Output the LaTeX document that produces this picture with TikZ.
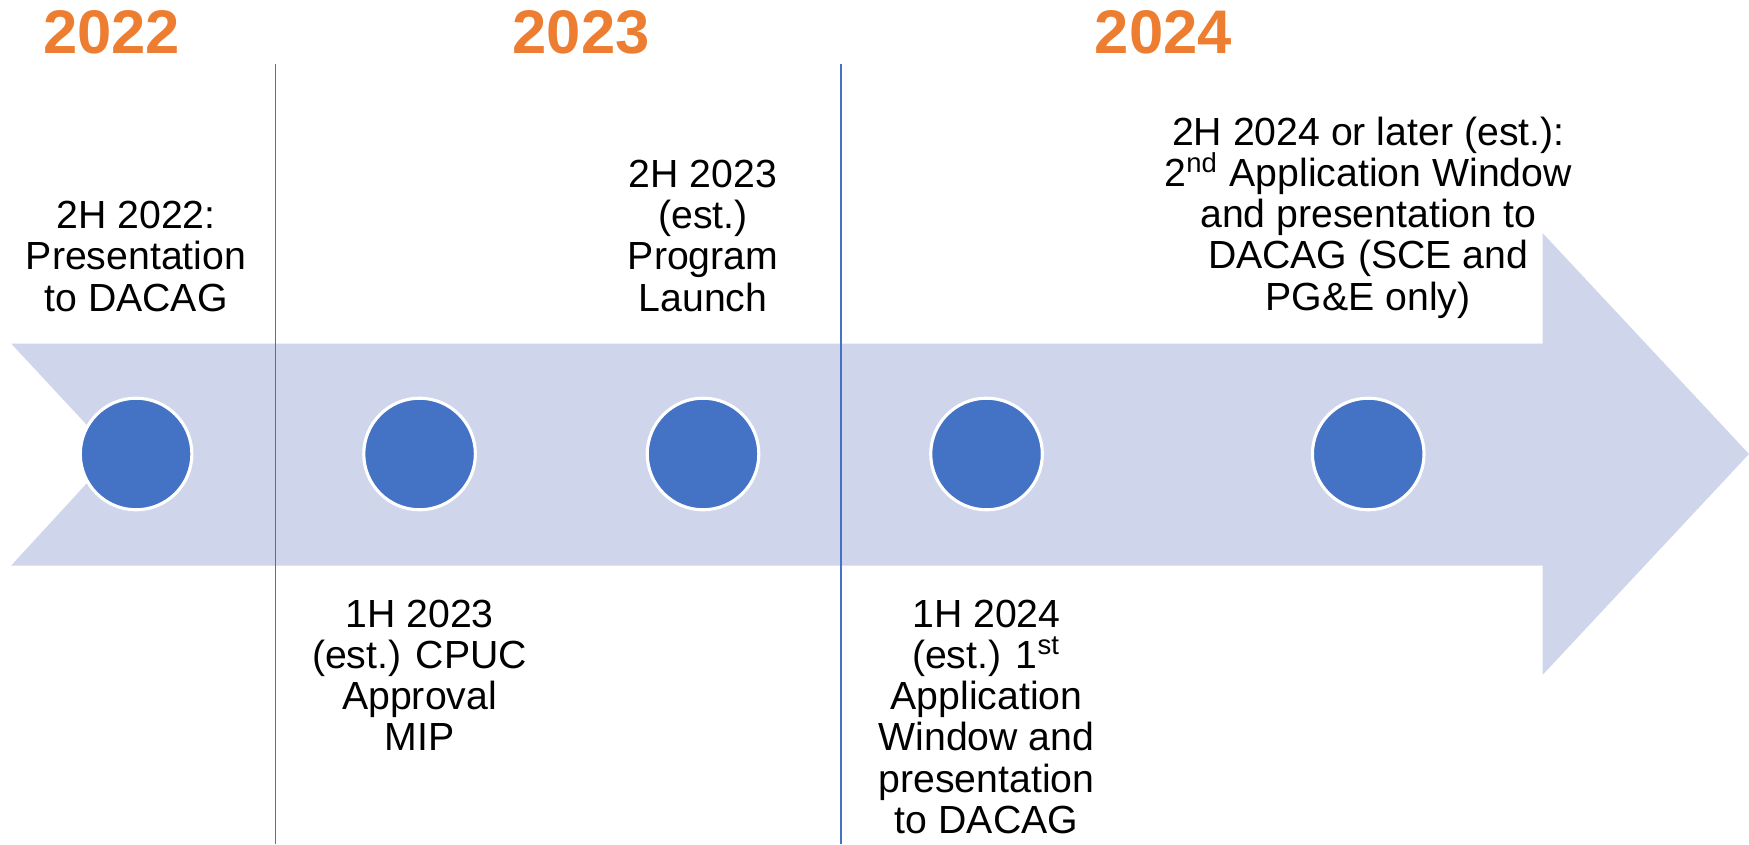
\documentclass[tikz,border=0pt]{standalone}
\usepackage{fontspec}
\setmainfont{Liberation Sans}
\usetikzlibrary{positioning}

\definecolor{bandblue}{HTML}{CFD5EA}
\definecolor{dotblue}{HTML}{4472C4}
\definecolor{yearorange}{HTML}{ED7D31}

\setlength{\lineskiplimit}{-10pt}

\tikzset{
	milestone/.style={circle, fill=dotblue, draw=white, line width=0.8pt, minimum size=1cm, inner sep=0pt, outer sep=0pt},
	event/.style={align=center, inner sep=0pt, font=\fontsize{10}{10.5}\selectfont},
	year/.style={text=yearorange, font=\fontsize{15.7}{18}\selectfont\bfseries},
	divider/.style={dotblue, line width=0.5pt}
}

\begin{document}
\begin{tikzpicture}[x=0.01cm, y=-0.01cm]
\useasboundingbox (0,0) rectangle (1568,757);

\fill[bandblue] (10,308) -- (1383,308) -- (1383,209) -- (1568,407) -- (1383,605)
	-- (1383,507) -- (10,507) -- (102,407) -- cycle;

\coordinate (d1top) at (247,57);
\coordinate (d1bot) at (247,757);
\coordinate (d2top) at (754,57);
\coordinate (d2bot) at (754,757);
\draw[divider] (d1top) -- (d1bot);
\draw[divider] (d2top) -- (d2bot);

\node[year] (yr22) at (100,29) {2022};
\node[year] (yr23) at (521,29) {2023};
\node[year] (yr24) at (1043,29) {2024};

\node[milestone] (m1) at (122,407) {};
\node[milestone, right=1.54cm of m1] (m2) {};
\node[milestone, right=1.54cm of m2] (m3) {};
\node[milestone, right=1.54cm of m3] (m4) {};
\node[milestone, right=2.42cm of m4] (m5) {};

\node[event, above=7.7mm of m1] (e1) {2H 2022:\\Presentation\\to DACAG};
\node[event, below=8mm of m2] (e2) {1H 2023\\(est.) CPUC\\Approval\\MIP};
\node[event, above=7.7mm of m3] (e3) {2H 2023\\(est.)\\Program\\Launch};
\node[event, below=8mm of m4] (e4) {1H 2024\\(est.) 1\textsuperscript{st}\\Application\\Window and\\presentation\\to DACAG};
\node[event, above=7.1mm of m5] (e5) {2H 2024 or later (est.):\\2\textsuperscript{nd} Application Window\\and presentation to\\DACAG (SCE and\\PG\&E only)};

\end{tikzpicture}
\end{document}
